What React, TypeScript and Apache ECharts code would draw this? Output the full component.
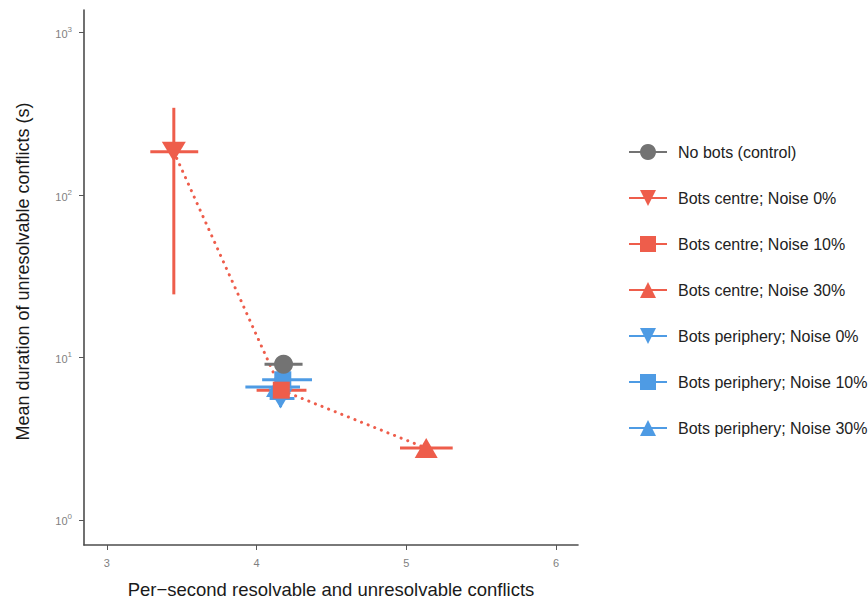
import React, { useEffect, useRef } from 'react';
import * as echarts from 'echarts';

// ---- data ----
const seriesNames = [
  'No bots (control)',
  'Bots centre; Noise 0%',
  'Bots centre; Noise 10%',
  'Bots centre; Noise 30%',
  'Bots periphery; Noise 0%',
  'Bots periphery; Noise 10%',
  'Bots periphery; Noise 30%',
];
const groups = ['control', 'centre', 'centre', 'centre', 'periphery', 'periphery', 'periphery'];
const shapes = ['circle', 'down', 'square', 'up', 'down', 'square', 'up'];
const xMean = [4.18, 3.447, 4.165, 5.133, 4.16, 4.175, 4.14];
const xLow = [4.053, 3.29, 4.0, 4.958, 4.087, 4.037, 3.925];
const xHigh = [4.307, 3.61, 4.333, 5.31, 4.253, 4.37, 4.29];
const yMean = [9.1, 185, 6.3, 2.77, 5.6, 7.3, 6.6];
const yLow = [8.6, 24.5, 5.8, 2.6, 4.95, 6.4, 6.0];
const yHigh = [9.6, 345, 6.9, 2.9, 6.6, 8.0, 7.2];
const xTicks = [3, 4, 5, 6];
const yTicks = [1, 10, 100, 1000];

const COLORS: Record<string, string> = {
  control: '#737373',
  centre: '#ee5d4b',
  periphery: '#4e9be4',
};
const Z: Record<string, number> = { periphery: 3, centre: 4, control: 5 };
const SYMBOLS: Record<string, string> = {
  circle: 'circle',
  square: 'rect',
  up: 'path://M5,0 L10,9 L0,9 Z',
  down: 'path://M0,0 L10,0 L5,9 Z',
};
const SIZES: Record<string, number | number[]> = {
  circle: 19,
  square: 17,
  up: [23, 20],
  down: [24, 20],
};
const FONT = 'Liberation Sans';

export default function App() {
  const ref = useRef<HTMLDivElement>(null);
  useEffect(() => {
    if (!ref.current) return;
    const chart = echarts.init(ref.current, undefined, { renderer: 'svg' });
    const lg = (v: number) => Math.log10(v);

    const errData = seriesNames.map((_, i) => [
      xMean[i], lg(yMean[i]), xLow[i], xHigh[i], lg(yLow[i]), lg(yHigh[i]), i,
    ]);

    const centreIdx = groups.map((g, i) => (g === 'centre' ? i : -1)).filter((i) => i >= 0);

    const series: any[] = [];
    series.push({
      type: 'line',
      name: 'trend',
      data: centreIdx.map((i) => [xMean[i], lg(yMean[i])]),
      showSymbol: false,
      symbol: 'none',
      lineStyle: { color: COLORS.centre, width: 3, type: [0.1, 7], cap: 'round' },
      z: 1,
      silent: true,
    });
    series.push({
      type: 'custom',
      name: 'errors',
      data: errData,
      encode: { x: 0, y: 1 },
      z: 2,
      silent: true,
      renderItem: (params: any, api: any) => {
        const x = api.value(0);
        const y = api.value(1);
        const idx = api.value(6);
        const color = COLORS[groups[idx]];
        const a = api.coord([api.value(2), y]);
        const b = api.coord([api.value(3), y]);
        const c = api.coord([x, api.value(4)]);
        const d = api.coord([x, api.value(5)]);
        return {
          type: 'group',
          children: [
            { type: 'line', shape: { x1: a[0], y1: a[1], x2: b[0], y2: b[1] }, style: { stroke: color, lineWidth: 3 } },
            { type: 'line', shape: { x1: c[0], y1: c[1], x2: d[0], y2: d[1] }, style: { stroke: color, lineWidth: 3 } },
          ],
        };
      },
    });
    seriesNames.forEach((name, i) => {
      const g = groups[i];
      series.push({
        type: 'line',
        name,
        data: [[xMean[i], lg(yMean[i])]],
        symbol: SYMBOLS[shapes[i]],
        symbolSize: SIZES[shapes[i]],
        itemStyle: { color: COLORS[g] },
        lineStyle: { color: COLORS[g], width: 2.5 },
        z: Z[g],
      });
    });

    chart.setOption({
      animation: false,
      backgroundColor: '#ffffff',
      textStyle: { fontFamily: FONT },
      grid: { left: 84, top: 10, right: 290, bottom: 58, containLabel: false },
      legend: {
        data: seriesNames,
        orient: 'vertical',
        left: 623,
        top: 139,
        itemWidth: 38,
        itemHeight: 20,
        itemGap: 30,
        textStyle: { fontSize: 16, color: '#222', fontFamily: FONT, padding: [0, 0, 0, 6] },
        selectedMode: false,
      },
      xAxis: {
        type: 'value',
        min: 2.847,
        max: 6.147,
        name: 'Per\u2212second resolvable and unresolvable conflicts',
        nameLocation: 'middle',
        nameGap: 35,
        nameTextStyle: { fontSize: 18.5, color: '#1a1a1a', fontFamily: FONT },
        axisLine: { show: true, onZero: false, lineStyle: { color: '#4d4d4d', width: 1.6 } },
        axisTick: { show: true, customValues: xTicks, length: 5, lineStyle: { color: '#555', width: 1 } },
        axisLabel: { customValues: xTicks, color: '#7f7f7f', fontSize: 11, margin: 12, fontFamily: FONT },
        splitLine: { show: false },
      },
      yAxis: {
        type: 'value',
        min: -0.154,
        max: 3.14,
        name: 'Mean duration of unresolvable conflicts (s)',
        nameLocation: 'middle',
        nameGap: 52,
        nameTextStyle: { fontSize: 18, color: '#1a1a1a', fontFamily: FONT, padding: [0, 0, 0, 12] },
        axisLine: { show: true, onZero: false, lineStyle: { color: '#4d4d4d', width: 1.6 } },
        axisTick: { show: true, customValues: yTicks.map(lg), length: 5, lineStyle: { color: '#555', width: 1 } },
        axisLabel: {
          customValues: yTicks.map(lg),
          margin: 12,
          formatter: (v: number) => `{b|10}{s|${Math.round(v)}}`,
          rich: {
            b: { fontSize: 11, color: '#7f7f7f', fontFamily: FONT, verticalAlign: 'bottom' },
            s: { fontSize: 8, color: '#7f7f7f', fontFamily: FONT, verticalAlign: 'bottom', padding: [0, 0, 6, 0] },
          },
        },
        splitLine: { show: false },
      },
      series,
    });
    return () => chart.dispose();
  }, []);
  return <div ref={ref} style={{ position: 'fixed', left: 0, top: 0, width: 868, height: 604 }} />;
}
